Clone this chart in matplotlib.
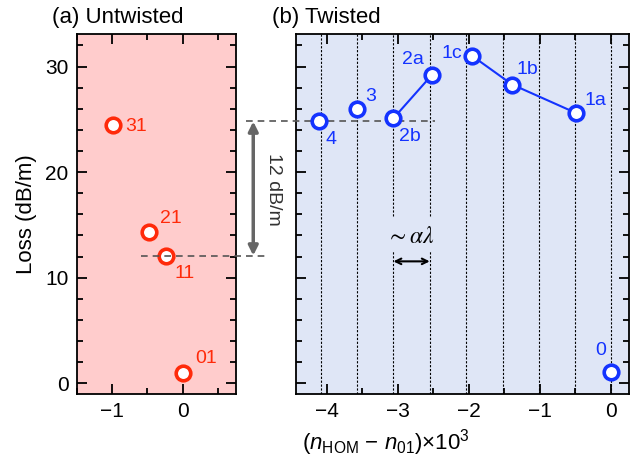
import numpy as np
import matplotlib.pyplot as plt
from matplotlib.ticker import MultipleLocator

plt.rcParams['font.family'] = 'Liberation Sans'
plt.rcParams['mathtext.fontset'] = 'custom'
plt.rcParams['mathtext.rm'] = 'Liberation Sans'
plt.rcParams['mathtext.it'] = 'Liberation Sans:italic'

# untwisted fibre modes
untw_labels = ['31', '21', '11', '01']
untw_x = [-0.99, -0.48, -0.24, 0.0]
untw_loss = [24.5, 14.3, 12.1, 1.0]

# twisted fibre modes
tw_labels = ['4', '3', '2b', '2a', '1c', '1b', '1a', '0']
tw_x = [-4.11, -3.57, -3.06, -2.52, -1.95, -1.39, -0.49, 0.0]
tw_loss = [24.8, 26.0, 25.1, 29.2, 31.0, 28.3, 25.6, 1.1]
tw_groups = [['2b', '2a'], ['1c', '1b', '1a']]

# resonance lines spaced ~ alpha*lambda
res_x = [-4.08, -3.57, -3.06, -2.55, -2.04, -1.52, -1.01, -0.50, 0.0]

red = '#ff2a0a'
blue = '#1433ff'

fig = plt.figure(figsize=(6.3, 4.7), dpi=100)
ax1 = fig.add_axes([0.122, 0.162, 0.252, 0.766])
ax2 = fig.add_axes([0.470, 0.162, 0.529, 0.766])

ax1.set_facecolor('#ffcccc')
ax2.set_facecolor('#dfe6f6')

for ax in (ax1, ax2):
    ax.set_ylim(-1, 33.1)
    ax.yaxis.set_major_locator(MultipleLocator(10))
    ax.yaxis.set_minor_locator(MultipleLocator(2))
    ax.xaxis.set_major_locator(MultipleLocator(1))
    ax.xaxis.set_minor_locator(MultipleLocator(0.5))
    ax.tick_params(which='both', direction='in', top=True, right=True, width=1.3, labelsize=15)
    ax.tick_params(which='major', length=7, pad=6)
    ax.tick_params(which='minor', length=4)
    for s in ax.spines.values():
        s.set_linewidth(1.3)

ax1.set_xlim(-1.5, 0.75)
ax2.set_xlim(-4.43, 0.26)
ax1.set_xticks([-1, 0])
ax1.set_xticklabels(['\u22121', '0'])
ax2.set_xticks([-4, -3, -2, -1, 0])
ax2.set_xticklabels(['\u22124', '\u22123', '\u22122', '\u22121', '0'])
ax2.tick_params(labelleft=False)
ax1.set_ylabel('Loss (dB/m)', fontsize=16, labelpad=6)

# untwisted
ax1.plot(untw_x, untw_loss, 'o', ms=10.5, mfc='white', mec=red, mew=2.6, zorder=5)
untw_off = {'31': (9, -1, 'left', 'center'), '21': (8, 4, 'left', 'bottom'),
            '11': (6, -13, 'left', 'center'), '01': (9, 4, 'left', 'bottom')}
for lab, x, y in zip(untw_labels, untw_x, untw_loss):
    dx, dy, ha, va = untw_off[lab]
    ax1.annotate(lab, (x, y), xytext=(dx, dy), textcoords='offset points',
                 color=red, fontsize=14, ha=ha, va=va)

# twisted
for x in res_x:
    if x in (-3.06, -2.55):
        ax2.plot([x, x], [-1, 12.5], ls=(0, (2, 1.5)), color='k', lw=0.8, zorder=1)
        ax2.plot([x, x], [15.8, 33.1], ls=(0, (2, 1.5)), color='k', lw=0.8, zorder=1)
    else:
        ax2.axvline(x, ls=(0, (2, 1.5)), color='k', lw=0.8, zorder=1)

for grp in tw_groups:
    idx = [tw_labels.index(g) for g in grp]
    ax2.plot([tw_x[i] for i in idx], [tw_loss[i] for i in idx], '-', color=blue, lw=1.5, zorder=4)
ax2.plot(tw_x, tw_loss, 'o', ms=10.5, mfc='white', mec=blue, mew=2.6, zorder=5)

tw_off = {'4': (5, -7, 'left', 'top'), '3': (6, 3, 'left', 'bottom'),
          '2b': (4, -7, 'left', 'top'), '2a': (-6, 5, 'right', 'bottom'),
          '1c': (-7, 2, 'right', 'center'), '1b': (3, 5, 'left', 'bottom'),
          '1a': (6, 3, 'left', 'bottom'), '0': (-7, 9, 'center', 'bottom')}
for lab, x, y in zip(tw_labels, tw_x, tw_loss):
    dx, dy, ha, va = tw_off[lab]
    ax2.annotate(lab, (x, y), xytext=(dx, dy), textcoords='offset points',
                 color=blue, fontsize=14, ha=ha, va=va)

# 12 dB/m difference
ax1.plot([-0.59, 1.2], [12.1, 12.1], ls=(0, (4, 3)), color='#555555', lw=1.2, clip_on=False, zorder=6)
ax2.plot([-5.13, -2.48], [24.8, 24.8], ls=(0, (4, 3)), color='#555555', lw=1.2, clip_on=False, zorder=3)
ax1.annotate('', xy=(1.0, 24.8), xytext=(1.0, 12.1), annotation_clip=False,
             arrowprops=dict(arrowstyle='<|-|>', color='#666666', lw=2.5,
                             shrinkA=0, shrinkB=0, mutation_scale=14))
ax1.text(1.28, 18.4, '12 dB/m', rotation=-90, fontsize=14, color='#333333',
         ha='center', va='center', clip_on=False)

# ~ alpha lambda
ax2.text(-2.83, 13.9, r'$\sim\alpha\lambda$', math_fontfamily='stix', fontsize=17,
         ha='center', va='center')
ax2.annotate('', xy=(-2.55, 11.55), xytext=(-3.06, 11.55),
             arrowprops=dict(arrowstyle='<->', color='k', lw=1.5, shrinkA=0, shrinkB=0))

fig.text(52 / 630, 1 - 23 / 470, '(a) Untwisted', fontsize=16)
fig.text(272 / 630, 1 - 23 / 470, '(b) Twisted', fontsize=16)
fig.text(386 / 630, 1 - 443 / 470, r'($\mathit{n}_{\rm HOM}$ $-$ $\mathit{n}_{01}$)×10$^3$',
         fontsize=16, ha='center', va='center')

fig.savefig('out.png', dpi=100)
